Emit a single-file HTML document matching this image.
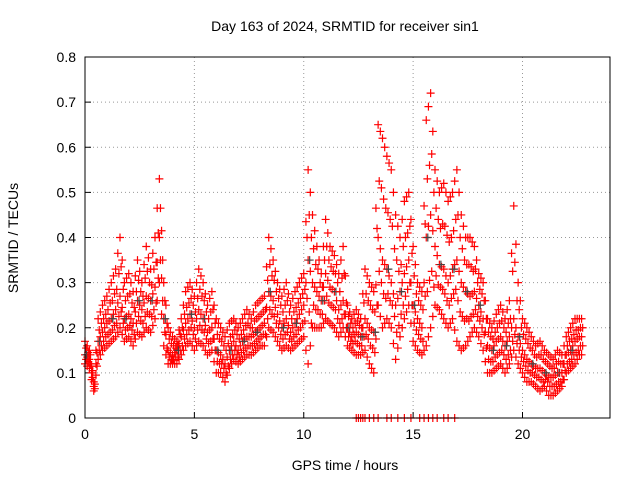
<!DOCTYPE html>
<html><head><meta charset="utf-8"><style>
body{margin:0;background:#fff}
svg{display:block;font-family:"Liberation Sans",sans-serif}
</style></head><body>
<svg id="chart" width="640" height="480">
<rect width="640" height="480" fill="#fff"/>
<text x="345" y="31" font-size="14" text-anchor="middle">Day 163 of 2024, SRMTID for receiver sin1</text>
<text x="345" y="470" font-size="14" text-anchor="middle">GPS time / hours</text>
<text transform="translate(18,238) rotate(-90)" font-size="14" text-anchor="middle">SRMTID / TECUs</text>
<g id="grid"></g><g id="marks"></g>
<rect x="85" y="57" width="525" height="361" fill="none" stroke="#000"/>
</svg>
<script>
const xTicks=[0,5,10,15,20];
const yTicks=[0,0.1,0.2,0.3,0.4,0.5,0.6,0.7,0.8];
const step=0.2;
const upperVals=[.17,.15,.08,.22,.25,.27,.30,.33,.40,.30,.32,.28,.35,.30,.38,.33,.40,.53,.30,.20,.18,.17,.22,.28,.30,.27,.33,.30,.25,.28,.22,.20,.18,.21,.22,.20,.22,.24,.22,.25,.26,.27,.40,.35,.30,.27,.30,.25,.28,.30,.32,.55,.45,.38,.32,.44,.38,.36,.32,.38,.25,.22,.24,.22,.33,.30,.28,.65,.62,.58,.55,.45,.40,.48,.50,.38,.30,.28,.66,.72,.55,.50,.52,.48,.50,.55,.45,.40,.40,.38,.32,.30,.22,.20,.23,.25,.22,.26,.47,.30,.22,.20,.18,.16,.17,.15,.14,.13,.15,.14,.18,.20,.22,.22];
const midVals=[.14,.13,.07,.17,.19,.21,.22,.24,.27,.22,.23,.21,.26,.24,.27,.26,.29,.40,.22,.15,.14,.15,.18,.21,.23,.20,.24,.22,.19,.20,.15,.14,.12,.15,.17,.15,.17,.18,.18,.19,.20,.21,.28,.26,.23,.20,.22,.19,.21,.23,.25,.35,.30,.28,.26,.32,.29,.28,.24,.26,.20,.18,.19,.18,.22,.20,.19,.40,.35,.33,.30,.25,.28,.32,.35,.25,.22,.20,.40,.45,.38,.34,.33,.30,.33,.35,.30,.28,.27,.28,.25,.22,.16,.15,.17,.18,.16,.18,.22,.18,.15,.13,.12,.11,.11,.10,.09,.09,.10,.10,.14,.15,.17,.18];
const lowerVals=[.12,.11,.06,.13,.15,.16,.17,.18,.20,.17,.18,.16,.19,.18,.20,.19,.22,.30,.16,.12,.12,.12,.14,.16,.17,.15,.17,.16,.14,.15,.10,.10,.08,.11,.13,.12,.13,.14,.14,.15,.16,.16,.20,.19,.17,.15,.16,.15,.16,.17,.18,.12,.20,.20,.20,.22,.21,.20,.18,.20,.16,.15,.14,.14,.15,.12,.10,.25,.20,.22,.20,.13,.18,.22,.25,.17,.15,.14,.16,.20,.25,.24,.22,.20,.22,.17,.15,.16,.18,.20,.18,.15,.10,.10,.11,.12,.10,.12,.15,.12,.10,.08,.08,.07,.06,.07,.05,.05,.06,.07,.10,.11,.12,.14];
const zeroTimes=[12.4,12.5,12.6,12.7,12.8,13.0,13.2,13.4,13.8,14.0,14.3,14.6,14.9,15.3,15.5,15.7,15.9,16.1,16.4,16.6,16.9];
const NS="http://www.w3.org/2000/svg";
const X0=85,X1=610,Y0=418,Y1=57;
function xs(h){return X0+h*(X1-X0)/24;}
function ys(v){return Y0-v*(Y0-Y1)/0.8;}
const grid=document.getElementById('grid'),marks=document.getElementById('marks');
function mk(tag,attrs,parent){const e=document.createElementNS(NS,tag);for(const k in attrs)e.setAttribute(k,attrs[k]);parent.appendChild(e);return e;}
xTicks.forEach(t=>{
 const l=mk('line',{x1:xs(t),x2:xs(t),y1:Y0,y2:Y1,stroke:'#999','stroke-dasharray':'1,3'},grid);
 
 
 mk('line',{x1:xs(t),x2:xs(t),y1:Y0,y2:Y0-6,stroke:'#000'},grid);
 const tx=mk('text',{x:xs(t),y:Y0+21,'font-size':14,'text-anchor':'middle'},grid);tx.textContent=t;
 
 
});
yTicks.forEach(t=>{
 const l=mk('line',{x1:X0,x2:X1,y1:ys(t),y2:ys(t),stroke:'#999','stroke-dasharray':'1,3'},grid);
 
 
 mk('line',{x1:X0,x2:X0+6,y1:ys(t),y2:ys(t),stroke:'#000'},grid);
 const tx=mk('text',{x:X0-9,y:ys(t)+5,'font-size':14,'text-anchor':'end'},grid);tx.textContent=t===0?'0':t.toFixed(1);
 
 
});
function cross(h,v,color){
 const x=xs(h),y=ys(v);
 const p=mk('path',{d:`M${x-4},${y}H${x+4}M${x},${y-4}V${y+4}`,stroke:color,'stroke-width':1.2,fill:'none'},marks);
 
 
}
const n=midVals.length;
for(let i=0;i<n;i++){
 const j=Math.min(i+1,n-1);
 const u=upperVals[i],m=midVals[i],l=lowerVals[i];
 const un=upperVals[j],mn=midVals[j],ln=lowerVals[j];
 cross(i*step,u,'#ff0000');
 cross(i*step,m,'#ff0000');
 cross(i*step,l,'#ff0000');
 cross(i*step+0.05,(u+m)/2,'#ff0000');
 cross(i*step+0.05,(m+l)/2,'#ff0000');
 cross(i*step+0.1,(u+un)/2,'#ff0000');
 cross(i*step+0.1,(m+mn)/2,'#ff0000');
 cross(i*step+0.1,(l+ln)/2,'#ff0000');
 cross(i*step+0.15,(m+un)/2,'#ff0000');
 cross(i*step+0.15,(l+mn)/2,'#ff0000');
 if(i%3===0)cross(i*step+0.07,m,'#444');
}
zeroTimes.forEach(t=>cross(t,0,'#ff0000'));
</script>
</body></html>
